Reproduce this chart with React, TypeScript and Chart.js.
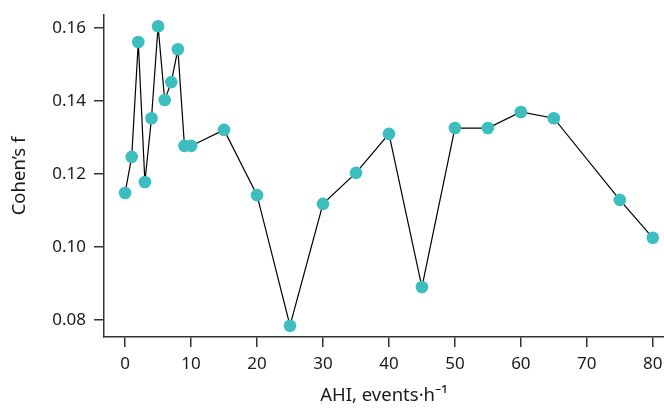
import React, { useEffect, useRef } from "react";
import { Chart, registerables } from "chart.js";

Chart.register(...registerables);

const ahi = [0, 1, 2, 3, 4, 5, 6, 7, 8, 9, 10, 15, 20, 25, 30, 35, 40, 45, 50, 55, 60, 65, 75, 80];
const cohensF = [
  0.1148, 0.1247, 0.1562, 0.1178, 0.1353, 0.1605, 0.1403, 0.1452, 0.1542, 0.1277, 0.1277,
  0.1321, 0.1142, 0.0784, 0.1118, 0.1203, 0.131, 0.089, 0.1326, 0.1326, 0.137, 0.1353,
  0.1129, 0.1025,
];
const xTicks = [0, 10, 20, 30, 40, 50, 60, 70, 80];
const yTicks = [0.08, 0.1, 0.12, 0.14, 0.16];
const xTitle = "AHI, events·h⁻¹";
const yTitle = "Cohen’s f";

const FONT = "'Noto Sans', sans-serif";
const AXIS = "#333333";

export default function App() {
  const ref = useRef<HTMLCanvasElement | null>(null);
  useEffect(() => {
    document.body.style.margin = "0";
    const canvas = ref.current;
    if (!canvas) return;
    const chart = new Chart(canvas, {
      type: "scatter",
      data: {
        datasets: [
          {
            data: ahi.map((x, i) => ({ x, y: cohensF[i] })),
            showLine: true,
            borderColor: "#000000",
            borderWidth: 1.2,
            pointRadius: 6.3,
            pointHoverRadius: 6.3,
            pointBackgroundColor: "#3cbec0",
            pointBorderWidth: 0,
            clip: false,
          } as any,
        ],
      },
      options: {
        animation: false,
        responsive: false,
        devicePixelRatio: 1,
        layout: { padding: { top: 15, right: 0, left: 0, bottom: 0 } },
        plugins: { legend: { display: false }, tooltip: { enabled: false } },
        scales: {
          x: {
            type: "linear",
            min: -3.2,
            max: 81.7,
            afterBuildTicks: (s: any) => {
              s.ticks = xTicks.map((v) => ({ value: v }));
            },
            afterFit: (s: any) => {
              s.height = 75;
              s.paddingLeft = 0;
              s.paddingRight = 0;
            },
            grid: { drawOnChartArea: false, drawTicks: true, tickLength: 10, color: AXIS, lineWidth: 1.5 },
            border: { display: true, color: AXIS, width: 1.5 },
            ticks: {
              color: "#1a1a1a",
              font: { family: FONT, size: 17 },
              padding: 7,
              maxRotation: 0,
              autoSkip: false,
              callback: (v: any) => String(v),
            },
            title: {
              display: true,
              text: xTitle,
              color: "#1a1a1a",
              font: { family: FONT, size: 18.5 },
              padding: { top: 0, bottom: 5 },
            },
          },
          y: {
            type: "linear",
            min: 0.0753,
            max: 0.1636,
            afterBuildTicks: (s: any) => {
              s.ticks = yTicks.map((v) => ({ value: v }));
            },
            afterFit: (s: any) => {
              s.width = 104;
              s.paddingTop = 0;
              s.paddingBottom = 0;
            },
            grid: { drawOnChartArea: false, drawTicks: true, tickLength: 10, color: AXIS, lineWidth: 1.5 },
            border: { display: true, color: AXIS, width: 1.5 },
            ticks: {
              color: "#1a1a1a",
              font: { family: FONT, size: 17 },
              padding: 8,
              autoSkip: false,
              callback: (v: any) => Number(v).toFixed(2),
            },
            title: {
              display: true,
              text: yTitle,
              color: "#1a1a1a",
              font: { family: FONT, size: 18.5 },
              padding: { top: 9, bottom: 0 },
            },
          },
        },
      },
      plugins: [
        {
          id: "fixArea",
          afterLayout: (c: any) => {
            const xs = c.scales.x;
            if (c.chartArea.right < 664) {
              c.chartArea.right = 664;
              c.chartArea.width = c.chartArea.right - c.chartArea.left;
              xs.right = 664;
              xs.width = xs.right - xs.left;
              xs.configure();
            }
          },
        },
      ],
    });
    return () => chart.destroy();
  }, []);
  return (
    <div style={{ width: 664, height: 412 }}>
      <canvas ref={ref} width={664} height={412} style={{ display: "block" }} />
    </div>
  );
}
